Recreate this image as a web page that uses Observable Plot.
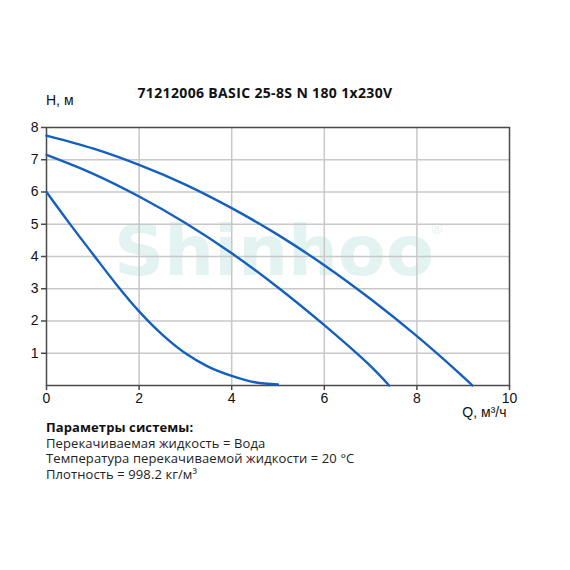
<!DOCTYPE html>
<html>
<head>
<meta charset="utf-8">
<script src="https://cdn.jsdelivr.net/npm/d3@7"></script>
<script src="https://cdn.jsdelivr.net/npm/@observablehq/plot@0.6"></script>
<style>
  html, body { margin: 0; padding: 0; background: #fff; }
  #wrap { width: 570px; height: 570px; position: relative; overflow: hidden; }
  #header { position: relative; height: 108px; }
  #title { position: absolute; left: 0; width: 530px; top: 84px; text-align: center;
    font: bold 14px "Open Sans", sans-serif; letter-spacing: 0.35px; color: #111; line-height: 18px; }
  #ylabel { position: absolute; left: 46px; top: 92px; font: 14px "Liberation Sans", Arial, sans-serif; color: #111; line-height: 16px; }
  #caption { padding-left: 46px; font: 13px "Open Sans", sans-serif; letter-spacing: 0.1px; color: #222; line-height: 15.7px; }
  #caption b { font-weight: 700; color: #111; }
  svg { display: block; }
</style>
</head>
<body>
<div id="wrap">
  <div id="header">
    <div id="title"></div>
    <div id="ylabel"></div>
  </div>
  <div id="chart"></div>
  <div id="caption"></div>
</div>
<script>
const titleText = "71212006 BASIC 25-8S N 180 1x230V";
const yLabel = "H, м";
const xLabel = "Q, м³/ч";
const watermark = "Shinhoo";
const captionHead = "Параметры системы:";
const captionLines = [
  "Перекачиваемая жидкость = Вода",
  "Температура перекачиваемой жидкости = 20 °C",
  "Плотность = 998.2 кг/м³"
];

const xTicks = [0, 2, 4, 6, 8, 10];
const yTicks = [1, 2, 3, 4, 5, 6, 7, 8];

// Curve: max speed
const qHigh = [0, 1, 2, 3, 4, 5, 6, 7, 8, 9, 9.2];
const hHigh = [7.75, 7.35, 6.84, 6.23, 5.5, 4.67, 3.73, 2.68, 1.53, 0.27, 0];
// Curve: middle speed
const qMid = [0, 1, 2, 3, 4, 5, 6, 7, 7.4];
const hMid = [7.15, 6.57, 5.86, 5.04, 4.1, 3.04, 1.87, 0.6, 0];
// Curve: low speed
const qLow = [0, 0.5, 1, 1.5, 2, 2.5, 3, 3.5, 4, 4.5, 5];
const hLow = [6.0, 5.02, 4.08, 3.15, 2.3, 1.58, 1.0, 0.58, 0.3, 0.1, 0.03];

const rows = [];
[["high", qHigh, hHigh], ["mid", qMid, hMid], ["low", qLow, hLow]].forEach(([s, qs, hs]) =>
  qs.forEach((q, i) => rows.push({series: s, q, h: hs[i]})));

document.getElementById("title").textContent = titleText;
document.getElementById("ylabel").textContent = yLabel;
const cap = document.getElementById("caption");
cap.innerHTML = "<b></b>";
cap.querySelector("b").textContent = captionHead;
captionLines.forEach(t => { const d = document.createElement("div"); d.textContent = t; cap.appendChild(d); });

const chart = Plot.plot({
  width: 570,
  height: 312,
  marginLeft: 46,
  marginRight: 61,
  marginTop: 19,
  marginBottom: 35,
  style: {fontFamily: "'Liberation Sans', Arial, sans-serif", fontSize: "14px", color: "#111", background: "#fff"},
  x: {domain: [0, 10], label: null},
  y: {domain: [0, 8], label: null},
  marks: [
    Plot.text([watermark], {frameAnchor: "middle", dx: -4, dy: -4, text: d => d,
      fontFamily: "'DejaVu Sans', sans-serif", fontWeight: "bold", fontSize: 70,
      fill: "#e3f3f1", letterSpacing: 3}),
    Plot.text(["®"], {frameAnchor: "middle", dx: 159, dy: -27, text: d => d,
      fontFamily: "'DejaVu Sans', sans-serif", fontSize: 14, fill: "#e3f3f1"}),
    Plot.gridX([2, 4, 6, 8], {stroke: "#c8c8c8", strokeOpacity: 1, strokeWidth: 1.5}),
    Plot.gridY([1, 2, 3, 4, 5, 6, 7], {stroke: "#c8c8c8", strokeOpacity: 1, strokeWidth: 1.5}),
    Plot.frame({stroke: "#4a4a4a", strokeWidth: 1.5}),
    Plot.axisX(xTicks, {tickSize: 5, tickPadding: 3, stroke: "#4a4a4a", strokeWidth: 1.5, label: null, fill: "#111"}),
    Plot.axisY(yTicks, {tickSize: 5, tickPadding: 3, stroke: "#4a4a4a", strokeWidth: 1.5, label: null, fill: "#111"}),
    Plot.line(rows, {x: "q", y: "h", z: "series", curve: "catmull-rom", stroke: "#1560bd", strokeWidth: 2.4}),
    Plot.text([xLabel], {frameAnchor: "bottom-right", dy: 31, dx: -3, text: d => d, textAnchor: "end", fontSize: 14, fill: "#111"})
  ]
});
document.getElementById("chart").appendChild(chart);
</script>
</body>
</html>
